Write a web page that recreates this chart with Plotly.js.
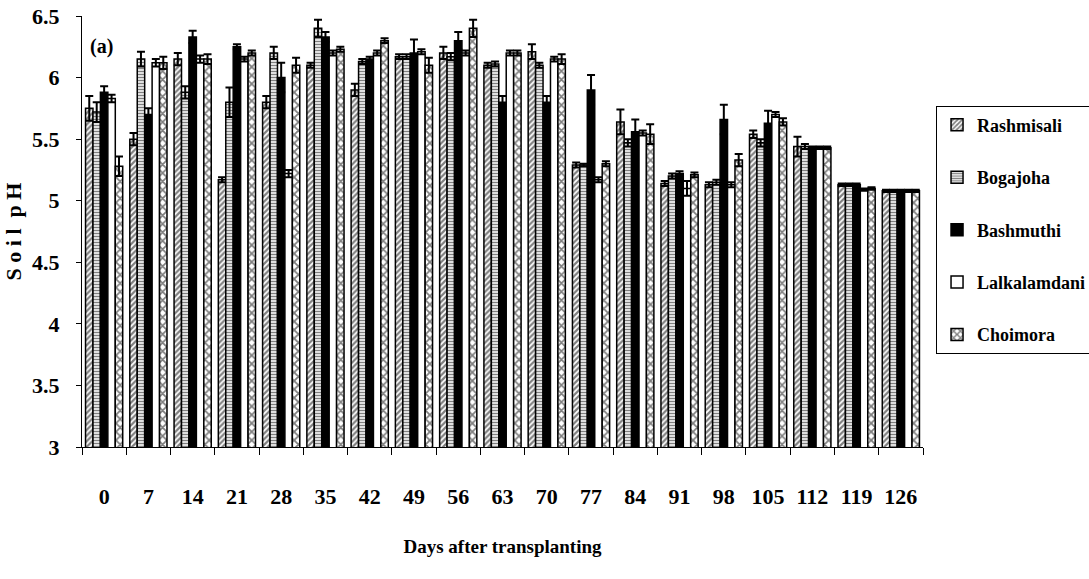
<!DOCTYPE html>
<html>
<head>
<meta charset="utf-8">
<script src="https://cdn.plot.ly/plotly-3.0.1.min.js"></script>
<style>html,body{margin:0;padding:0;background:#fff;}#chart{width:1089px;height:579px;}</style>
</head>
<body>
<div id="chart"></div>
<script>
const days = ['0','7','14','21','28','35','42','49','56','63','70','77','84','91','98','105','112','119','126'];

const rashmisali    = [5.75, 5.50, 6.15, 5.17, 5.80, 6.10, 5.90, 6.17, 6.20, 6.10, 6.21, 5.29, 5.64, 5.14, 5.13, 5.54, 5.44, 5.13, 5.08];
const rashmisaliErr = [0.10, 0.05, 0.05, 0.02, 0.05, 0.02, 0.05, 0.02, 0.05, 0.02, 0.06, 0.02, 0.10, 0.02, 0.02, 0.03, 0.08, 0.01, 0.01];

const bogajoha      = [5.72, 6.15, 5.88, 5.80, 6.20, 6.40, 6.13, 6.17, 6.17, 6.11, 6.10, 5.29, 5.47, 5.20, 5.15, 5.47, 5.44, 5.13, 5.08];
const bogajohaErr   = [0.08, 0.06, 0.05, 0.12, 0.05, 0.07, 0.02, 0.02, 0.03, 0.02, 0.02, 0.01, 0.03, 0.02, 0.02, 0.03, 0.02, 0.01, 0.01];

const bashmuthi     = [5.88, 5.70, 6.33, 6.25, 6.00, 6.33, 6.15, 6.20, 6.30, 5.80, 5.80, 5.90, 5.56, 5.22, 5.66, 5.63, 5.43, 5.13, 5.08];
const bashmuthiErr  = [0.05, 0.05, 0.05, 0.02, 0.12, 0.04, 0.02, 0.11, 0.07, 0.05, 0.05, 0.12, 0.10, 0.02, 0.12, 0.10, 0.01, 0.01, 0.01];

const lalkalamdani    = [5.83, 6.12, 6.15, 6.15, 5.22, 6.20, 6.20, 6.21, 6.20, 6.20, 6.15, 5.17, 5.55, 5.10, 5.13, 5.70, 5.43, 5.09, 5.08];
const lalkalamdaniErr = [0.03, 0.03, 0.03, 0.02, 0.03, 0.02, 0.02, 0.02, 0.02, 0.02, 0.02, 0.02, 0.02, 0.06, 0.02, 0.02, 0.01, 0.01, 0.01];

const choimora      = [5.28, 6.12, 6.15, 6.20, 6.10, 6.23, 6.30, 6.10, 6.40, 6.20, 6.15, 5.30, 5.54, 5.21, 5.33, 5.64, 5.43, 5.10, 5.08];
const choimoraErr   = [0.08, 0.05, 0.04, 0.02, 0.06, 0.02, 0.02, 0.06, 0.07, 0.02, 0.04, 0.02, 0.08, 0.02, 0.05, 0.03, 0.01, 0.01, 0.01];

const seriesNames = ['Rashmisali', 'Bogajoha', 'Bashmuthi', 'Lalkalamdani', 'Choimora'];
const seriesVals = [rashmisali, bogajoha, bashmuthi, lalkalamdani, choimora];
const seriesErrs = [rashmisaliErr, bogajohaErr, bashmuthiErr, lalkalamdaniErr, choimoraErr];

const FONT = 'Liberation Serif, Times New Roman, serif';

const styles = [
  {color: '#ffffff', pattern: {shape: '/', fgcolor: '#000', bgcolor: '#fff', size: 4, solidity: 0.55, fillmode: 'overlay'}},
  {color: '#ffffff', pattern: {shape: '-', fgcolor: '#000', bgcolor: '#fff', size: 3, solidity: 0.5, fillmode: 'overlay'}},
  {color: '#000000'},
  {color: '#ffffff'},
  {color: '#ffffff', pattern: {shape: 'x', fgcolor: '#000', bgcolor: '#fff', size: 6, solidity: 0.5, fillmode: 'overlay'}}
];

const traces = seriesNames.map((name, i) => {
  const m = {color: styles[i].color, line: {color: '#000', width: 1.5}};
  if (styles[i].pattern) m.pattern = styles[i].pattern;
  return {
    type: 'bar',
    name: name,
    x: days,
    y: seriesVals[i],
    base: 0,
    marker: m,
    legendgroup: 'g' + i,
    error_y: {type: 'data', array: seriesErrs[i], visible: true, color: '#000', thickness: 2, width: 4}
  };
});

const layout = {
  width: 1089,
  height: 579,
  paper_bgcolor: '#fff',
  plot_bgcolor: '#fff',
  margin: {l: 82, r: 166, t: 16, b: 132, autoexpand: false},
  barmode: 'group',
  bargap: 0.16,
  bargroupgap: 0,
  showlegend: true,
  font: {family: FONT, color: '#000'},
  xaxis: {
    type: 'category',
    tickson: 'boundaries',
    ticks: 'outside',
    ticklen: 7,
    tickcolor: '#000',
    showline: true,
    linecolor: '#000',
    linewidth: 1,
    showgrid: false,
    zeroline: false,
    ticklabelstandoff: 30,
    tickfont: {family: FONT, size: 22, color: '#000', weight: 'bold'},
    title: {text: 'Days after transplanting', font: {family: FONT, size: 19, color: '#000', weight: 'bold'}, standoff: 31}
  },
  yaxis: {
    range: [3, 6.5],
    dtick: 0.5,
    tick0: 3,
    ticks: 'outside',
    ticklen: 5,
    tickcolor: '#000',
    showline: true,
    linecolor: '#000',
    linewidth: 1,
    showgrid: false,
    zeroline: false,
    ticklabelstandoff: 12,
    tickfont: {family: FONT, size: 22, color: '#000', weight: 'bold'},
    title: {text: 'S o i l  p H', font: {family: FONT, size: 22, color: '#000', weight: 'bold'}, standoff: 4}
  },
  legend: {
    x: 1.0155, xanchor: 'left',
    y: 0.792, yanchor: 'top',
    bordercolor: '#000',
    borderwidth: 1,
    bgcolor: '#fff',
    font: {family: FONT, size: 18, color: '#000', weight: 'bold'},
    traceorder: 'grouped',
    tracegroupgap: 26,
    itemwidth: 30
  },
  annotations: [{
    text: '(a)', xref: 'paper', yref: 'paper', x: 0.0075, y: 0.93, xanchor: 'left', yanchor: 'middle',
    showarrow: false, font: {family: FONT, size: 20, color: '#000', weight: 'bold'}
  }]
};

Plotly.newPlot('chart', traces, layout, {displayModeBar: false, staticPlot: true});
</script>
</body>
</html>
